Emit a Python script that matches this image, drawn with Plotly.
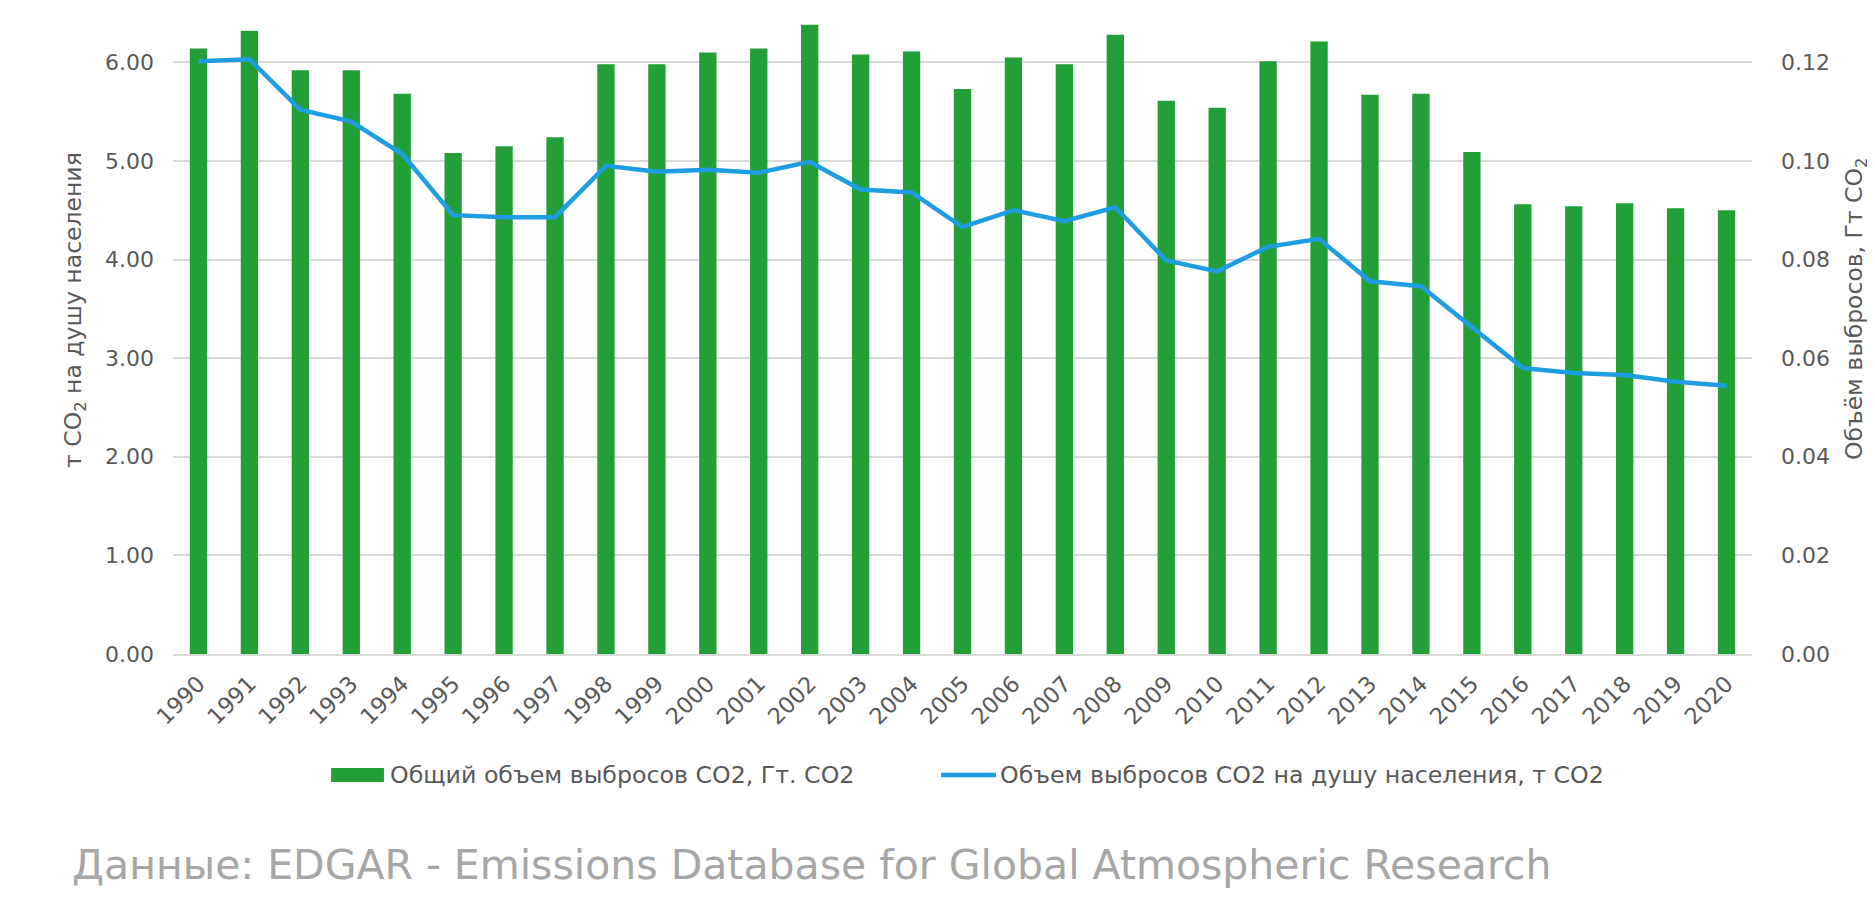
import plotly.graph_objects as go

years = [str(y) for y in range(1990, 2021)]

# Total CO2 emissions, Gt CO2 (bars, right axis)
total_gt = [0.1228, 0.1264, 0.1184, 0.1184, 0.1136, 0.1016, 0.1030, 0.1048, 0.1196, 0.1196,
            0.1220, 0.1228, 0.1276, 0.1216, 0.1222, 0.1146, 0.1210, 0.1196, 0.1256, 0.1122,
            0.1108, 0.1202, 0.1242, 0.1134, 0.1136, 0.1018, 0.0912, 0.0908, 0.0914, 0.0904,
            0.0900]

# CO2 emissions per capita, t CO2 (line, left axis)
per_capita_t = [6.01, 6.03, 5.52, 5.40, 5.07, 4.45, 4.43, 4.43, 4.95, 4.89,
                4.91, 4.88, 4.99, 4.71, 4.68, 4.33, 4.50, 4.39, 4.53, 3.99,
                3.88, 4.13, 4.21, 3.78, 3.73, 3.32, 2.90, 2.85, 2.83, 2.76,
                2.72]

left_ticks = [0, 1, 2, 3, 4, 5, 6]
right_ticks = [0, 0.02, 0.04, 0.06, 0.08, 0.10, 0.12]

bar_name = "Общий объем выбросов CO2, Гт. CO2"
line_name = "Объем выбросов CO2 на душу населения, т CO2"
left_title = "т CO<sub>2</sub> на душу населения"
right_title = "Объём выбросов, Гт CO<sub>2</sub>"
source_text = "Данные: EDGAR - Emissions Database for Global Atmospheric Research"

GREEN = "#229f37"
BLUE = "#1f9de2"
TXT = "#595959"
GRID = "#d9d9d9"
FONT = "DejaVu Sans"

fig = go.Figure()
fig.add_trace(go.Bar(x=years, y=total_gt, name=bar_name, marker_color=GREEN,
                     marker_line_width=0, yaxis="y", width=0.34, showlegend=False))
fig.add_trace(go.Scatter(x=years, y=per_capita_t, name=line_name, mode="lines",
                         line=dict(color=BLUE, width=4.5), yaxis="y2", showlegend=False))

fig.update_layout(
    width=1867, height=910,
    margin=dict(l=165, r=123, t=5, b=264),
    paper_bgcolor="white", plot_bgcolor="white",
    font=dict(family=FONT, color=TXT),
    showlegend=False,
    xaxis=dict(type="category", tickangle=-45, tickfont=dict(size=22.5, color=TXT),
               showgrid=False, showline=True, linecolor=GRID, linewidth=1.5,
               ticks="", ticklabelstandoff=6, automargin=False),
    yaxis=dict(side="right", range=[0, 0.13], tickvals=right_ticks, tickformat=".2f",
               tickfont=dict(size=22, color=TXT), showgrid=True, gridcolor=GRID,
               gridwidth=1.5, zeroline=False, ticklabelstandoff=28, automargin=False),
    yaxis2=dict(side="left", overlaying="y", range=[0, 6.5], tickvals=left_ticks,
                tickformat=".2f", tickfont=dict(size=22, color=TXT), showgrid=False,
                zeroline=False, ticklabelstandoff=18, automargin=False),
    bargap=0.66,
)

# axis titles
fig.add_annotation(text=left_title, xref="paper", yref="paper", x=-0.0621, y=0.5367,
                   textangle=-90, xanchor="center", yanchor="middle", showarrow=False,
                   font=dict(size=23.5, color=TXT, family=FONT))
fig.add_annotation(text=right_title, xref="paper", yref="paper", x=1.0652, y=0.5382,
                   textangle=-90, xanchor="center", yanchor="middle", showarrow=False,
                   font=dict(size=23.5, color=TXT, family=FONT))

# legend (drawn to match the reference's wide swatches)
fig.add_shape(type="rect", xref="paper", yref="paper", x0=0.1001, x1=0.1336,
              y0=-0.1997, y1=-0.1778, fillcolor=GREEN, line_width=0)
fig.add_annotation(text=bar_name, xref="paper", yref="paper", x=0.1362, y=-0.1888,
                   xanchor="left", yanchor="middle", showarrow=False,
                   font=dict(size=23.7, color=TXT, family=FONT))
fig.add_shape(type="line", xref="paper", yref="paper", x0=0.4864, x1=0.5212,
              y0=-0.1888, y1=-0.1888, line=dict(color=BLUE, width=4.5))
fig.add_annotation(text=line_name, xref="paper", yref="paper", x=0.5225, y=-0.1888,
                   xanchor="left", yanchor="middle", showarrow=False,
                   font=dict(size=23.7, color=TXT, family=FONT))

fig.add_annotation(text=source_text, xref="paper", yref="paper", x=-0.0652, y=-0.329,
                   xanchor="left", yanchor="middle", showarrow=False,
                   font=dict(size=41, color="#a6a6a6", family=FONT))

fig.write_html("out.html")
